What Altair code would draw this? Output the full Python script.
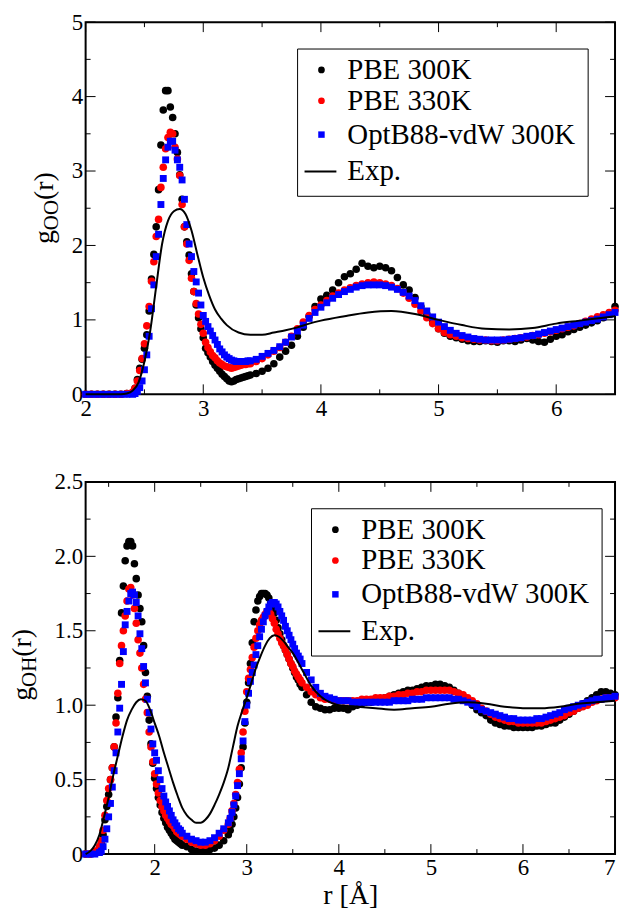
import altair as alt
import pandas as pd

FONT = "Liberation Serif"
W, H = 532, 374

series_names = ["PBE 300K", "PBE 330K", "OptB88-vdW 300K", "Exp."]
series_colors = ["#000000", "#ff0000", "#0000ff", "#000000"]

# ---------------- top panel: g_OO(r) ----------------
r_oo = [2.00, 2.05, 2.10, 2.15, 2.20, 2.25, 2.30, 2.35,
        2.40, 2.42, 2.44, 2.46, 2.48, 2.50, 2.52, 2.54, 2.56, 2.58,
        2.60, 2.62, 2.64, 2.66, 2.68, 2.70, 2.72, 2.74, 2.76, 2.78,
        2.80, 2.82, 2.84, 2.86, 2.88, 2.90, 2.92, 2.94, 2.96, 2.98,
        3.00, 3.02, 3.04, 3.06, 3.08, 3.10, 3.12, 3.14, 3.16, 3.18,
        3.20, 3.22, 3.24, 3.26, 3.28, 3.30, 3.32, 3.34, 3.36, 3.38,
        3.40, 3.45, 3.50, 3.55, 3.60, 3.65, 3.70, 3.75, 3.80, 3.85,
        3.90, 3.95, 4.00, 4.05, 4.10, 4.15, 4.20, 4.25, 4.30, 4.35,
        4.40, 4.45, 4.50, 4.55, 4.60, 4.65, 4.70, 4.75, 4.80, 4.85,
        4.90, 4.95, 5.00, 5.05, 5.10, 5.15, 5.20, 5.25, 5.30, 5.35,
        5.40, 5.45, 5.50, 5.55, 5.60, 5.65, 5.70, 5.75, 5.80, 5.85,
        5.90, 5.95, 6.00, 6.05, 6.10, 6.15, 6.20, 6.25, 6.30, 6.35,
        6.40, 6.45, 6.50]

goo_pbe300 = [0, 0, 0, 0, 0, 0, 0, 0.01,
              0.02, 0.08, 0.20, 0.35, 0.47, 0.62, 0.80, 1.12, 1.55, 1.88,
              2.25, 2.75, 3.35, 3.82, 4.08, 4.08, 3.86, 3.72, 3.50, 3.25,
              2.95, 2.62, 2.25, 2.05, 1.87, 1.62, 1.38, 1.20, 1.03, 0.88,
              0.76, 0.62, 0.56, 0.50, 0.44, 0.39, 0.35, 0.31, 0.27, 0.24,
              0.21, 0.18, 0.17, 0.18, 0.20, 0.21, 0.22, 0.23, 0.24, 0.25,
              0.26, 0.28, 0.31, 0.35, 0.41, 0.50, 0.58, 0.66, 0.78, 0.90,
              1.05, 1.18, 1.28, 1.33, 1.40, 1.50, 1.58, 1.62, 1.68, 1.76,
              1.72, 1.70, 1.72, 1.70, 1.66, 1.57, 1.47, 1.40, 1.30, 1.18,
              1.08, 0.97, 0.88, 0.82, 0.78, 0.76, 0.74, 0.72, 0.71, 0.71,
              0.72, 0.71, 0.70, 0.72, 0.72, 0.71, 0.73, 0.75, 0.73, 0.71,
              0.70, 0.74, 0.78, 0.80, 0.84, 0.87, 0.90, 0.93, 0.96, 0.99,
              1.03, 1.09, 1.18]

goo_pbe330 = [0, 0, 0, 0, 0, 0, 0, 0.01,
              0.03, 0.08, 0.18, 0.32, 0.48, 0.68, 0.92, 1.18, 1.52, 1.78,
              2.12, 2.35, 2.78, 3.05, 3.30, 3.45, 3.52, 3.50, 3.32, 3.16,
              2.94, 2.55, 2.25, 2.02, 1.80, 1.56, 1.38, 1.22, 1.08, 0.94,
              0.82, 0.70, 0.63, 0.57, 0.52, 0.49, 0.45, 0.42, 0.40, 0.38,
              0.37, 0.36, 0.35, 0.36, 0.37, 0.38, 0.39, 0.40, 0.40, 0.41,
              0.41, 0.44, 0.48, 0.53, 0.58, 0.63, 0.70, 0.78, 0.88, 0.97,
              1.06, 1.14, 1.20, 1.26, 1.32, 1.36, 1.40, 1.43, 1.46, 1.48,
              1.50, 1.51, 1.50, 1.48, 1.46, 1.42, 1.36, 1.29, 1.21, 1.12,
              1.03, 0.95, 0.88, 0.83, 0.80, 0.78, 0.76, 0.75, 0.74, 0.73,
              0.73, 0.72, 0.72, 0.73, 0.74, 0.75, 0.76, 0.77, 0.79, 0.80,
              0.82, 0.84, 0.86, 0.88, 0.90, 0.92, 0.95, 0.98, 1.01, 1.04,
              1.07, 1.10, 1.13]

goo_optb88 = [0, 0, 0, 0, 0, 0, 0, 0,
              0.00, 0.01, 0.04, 0.09, 0.18, 0.33, 0.53, 0.78, 1.15, 1.47,
              1.85, 2.15, 2.55, 2.90, 3.15, 3.32, 3.40, 3.40, 3.28, 3.15,
              3.05, 2.88, 2.62, 2.28, 2.02, 1.85, 1.65, 1.51, 1.36, 1.20,
              1.06, 0.98, 0.91, 0.85, 0.79, 0.73, 0.67, 0.61, 0.57, 0.53,
              0.50, 0.48, 0.46, 0.45, 0.44, 0.44, 0.44, 0.44, 0.44, 0.45,
              0.45, 0.47, 0.51, 0.55, 0.59, 0.64, 0.70, 0.77, 0.85, 0.93,
              1.02, 1.10, 1.17, 1.23, 1.29, 1.34, 1.38, 1.41, 1.44, 1.46,
              1.47, 1.47, 1.47, 1.46, 1.44, 1.41, 1.37, 1.32, 1.26, 1.19,
              1.12, 1.04, 0.97, 0.91, 0.86, 0.82, 0.79, 0.77, 0.75, 0.74,
              0.73, 0.73, 0.73, 0.73, 0.74, 0.75, 0.76, 0.78, 0.79, 0.81,
              0.83, 0.85, 0.87, 0.89, 0.91, 0.93, 0.95, 0.97, 0.99, 1.01,
              1.04, 1.07, 1.10]

r_oo_exp = [2.0, 2.1, 2.2, 2.3, 2.35, 2.4, 2.45, 2.5, 2.55, 2.6, 2.65, 2.7,
            2.75, 2.8, 2.85, 2.9, 2.95, 3.0, 3.05, 3.1, 3.15, 3.2, 3.3, 3.4,
            3.5, 3.6, 3.7, 3.8, 3.9, 4.0, 4.2, 4.4, 4.6, 4.8, 5.0, 5.2, 5.4,
            5.6, 5.8, 6.0, 6.2, 6.4, 6.5]
goo_exp = [0, 0, 0, 0, 0.01, 0.05, 0.16, 0.44, 0.86, 1.45, 2.02, 2.33,
           2.46, 2.49, 2.42, 2.20, 1.88, 1.57, 1.33, 1.14, 1.02, 0.93, 0.83, 0.80,
           0.80, 0.83, 0.86, 0.90, 0.95, 0.99, 1.05, 1.10, 1.12, 1.08, 1.00, 0.93, 0.88,
           0.87, 0.89, 0.95, 0.99, 1.03, 1.05]

# ---------------- bottom panel: g_OH(r) ----------------
r_oh = [1.25, 1.30, 1.35,
        1.40, 1.42, 1.44, 1.46, 1.48, 1.50, 1.52, 1.54, 1.56, 1.58,
        1.60, 1.62, 1.64, 1.66, 1.68, 1.70, 1.72, 1.74, 1.76, 1.78,
        1.80, 1.82, 1.84, 1.86, 1.88, 1.90, 1.92, 1.94, 1.96, 1.98,
        2.00, 2.02, 2.04, 2.06, 2.08, 2.10, 2.12, 2.14, 2.16, 2.18,
        2.20, 2.22, 2.24, 2.26, 2.28,
        2.30, 2.35, 2.40, 2.45, 2.50, 2.55, 2.60, 2.65, 2.70, 2.75,
        2.80, 2.82, 2.84, 2.86, 2.88, 2.90, 2.92, 2.94, 2.96, 2.98,
        3.00, 3.02, 3.04, 3.06, 3.08, 3.10, 3.12, 3.14, 3.16, 3.18,
        3.20, 3.22, 3.24, 3.26, 3.28, 3.30, 3.32, 3.34, 3.36, 3.38,
        3.40, 3.42, 3.44, 3.46, 3.48, 3.50, 3.52, 3.54, 3.56, 3.58,
        3.60,
        3.65, 3.70, 3.75, 3.80, 3.85, 3.90, 3.95, 4.00, 4.05, 4.10,
        4.15, 4.20, 4.25, 4.30, 4.35, 4.40, 4.45, 4.50, 4.55, 4.60,
        4.65, 4.70, 4.75, 4.80, 4.85, 4.90, 4.95, 5.00, 5.05, 5.10,
        5.15, 5.20, 5.25, 5.30, 5.35, 5.40, 5.45, 5.50, 5.55, 5.60,
        5.65, 5.70, 5.75, 5.80, 5.85, 5.90, 5.95, 6.00, 6.05, 6.10,
        6.15, 6.20, 6.25, 6.30, 6.35, 6.40, 6.45, 6.50, 6.55, 6.60,
        6.65, 6.70, 6.75, 6.80, 6.85, 6.90, 6.95, 7.00]

goh_pbe300 = [0, 0, 0.01,
              0.04, 0.07, 0.13, 0.23, 0.32, 0.40, 0.50, 0.58, 0.72, 0.92,
              1.05, 1.30, 1.62, 1.80, 1.97, 2.07, 2.10, 2.10, 2.07, 1.95,
              1.85, 1.74, 1.65, 1.56, 1.40, 1.22, 1.06, 0.90, 0.74, 0.61,
              0.51, 0.44, 0.38, 0.33, 0.28, 0.24, 0.21, 0.18, 0.16, 0.14,
              0.12, 0.10, 0.09, 0.08, 0.07,
              0.06, 0.05, 0.03, 0.02, 0.02, 0.02, 0.03, 0.04, 0.06, 0.09,
              0.13, 0.16, 0.20, 0.25, 0.31, 0.38, 0.47, 0.58, 0.72, 0.88,
              1.02, 1.15, 1.28, 1.42, 1.56, 1.64, 1.70, 1.73, 1.75, 1.75,
              1.75, 1.74, 1.72, 1.69, 1.66, 1.62, 1.57, 1.52, 1.48, 1.44,
              1.40, 1.37, 1.34, 1.31, 1.28, 1.25, 1.22, 1.19, 1.17, 1.14,
              1.12,
              1.07, 1.02, 0.99, 0.98, 0.97, 0.97, 0.98, 0.98, 0.98, 0.97,
              0.99, 1.00, 1.01, 1.02, 1.02, 1.03, 1.04, 1.05, 1.06, 1.07,
              1.08, 1.09, 1.10, 1.10, 1.11, 1.12, 1.13, 1.13, 1.14, 1.14,
              1.13, 1.12, 1.10, 1.08, 1.06, 1.03, 1.00, 0.97, 0.95, 0.93,
              0.90, 0.88, 0.87, 0.86, 0.86, 0.85, 0.85, 0.85, 0.85, 0.85,
              0.86, 0.86, 0.87, 0.88, 0.88, 0.90, 0.92, 0.94, 0.96, 0.98,
              1.01, 1.03, 1.05, 1.07, 1.09, 1.09, 1.08, 1.07]

goh_pbe330 = [0, 0, 0.02,
              0.05, 0.09, 0.16, 0.26, 0.36, 0.44, 0.50, 0.58, 0.72, 0.88,
              1.08, 1.28, 1.40, 1.50, 1.60, 1.70, 1.78, 1.79, 1.74, 1.65,
              1.55, 1.44, 1.35, 1.25, 1.14, 1.04, 0.95, 0.82, 0.72, 0.62,
              0.54, 0.47, 0.41, 0.36, 0.32, 0.29, 0.26, 0.24, 0.22, 0.20,
              0.19, 0.17, 0.15, 0.14, 0.13,
              0.12, 0.10, 0.08, 0.07, 0.06, 0.06, 0.07, 0.09, 0.12, 0.16,
              0.20, 0.24, 0.29, 0.34, 0.40, 0.48, 0.57, 0.68, 0.82, 0.96,
              1.09, 1.18, 1.24, 1.32, 1.39, 1.45, 1.50, 1.54, 1.57, 1.59,
              1.61, 1.63, 1.63, 1.61, 1.58, 1.55, 1.51, 1.48, 1.45, 1.42,
              1.40, 1.37, 1.34, 1.31, 1.28, 1.26, 1.23, 1.21, 1.19, 1.17,
              1.15,
              1.12, 1.09, 1.07, 1.05, 1.04, 1.04, 1.03, 1.03, 1.03, 1.03,
              1.03, 1.03, 1.04, 1.04, 1.04, 1.05, 1.05, 1.05, 1.06, 1.06,
              1.07, 1.07, 1.08, 1.08, 1.09, 1.09, 1.10, 1.10, 1.10, 1.10,
              1.10, 1.10, 1.09, 1.08, 1.07, 1.05, 1.03, 1.01, 0.98, 0.96,
              0.94, 0.92, 0.91, 0.90, 0.89, 0.89, 0.88, 0.88, 0.88, 0.88,
              0.88, 0.88, 0.89, 0.90, 0.91, 0.92, 0.93, 0.95, 0.96, 0.98,
              0.99, 1.00, 1.02, 1.03, 1.04, 1.05, 1.05, 1.05]

goh_optb88 = [0, 0, 0,
              0.01, 0.02, 0.05, 0.10, 0.17, 0.25, 0.34, 0.45, 0.56, 0.68,
              0.82, 0.98, 1.14, 1.36, 1.54, 1.63, 1.70, 1.75, 1.76, 1.74,
              1.69, 1.60, 1.48, 1.38, 1.26, 1.15, 1.04, 0.95, 0.84, 0.74,
              0.68, 0.63, 0.56, 0.50, 0.44, 0.39, 0.35, 0.32, 0.29, 0.26,
              0.23, 0.21, 0.19, 0.17, 0.16,
              0.14, 0.12, 0.10, 0.09, 0.08, 0.08, 0.09, 0.11, 0.14, 0.17,
              0.21, 0.24, 0.28, 0.33, 0.39, 0.46, 0.54, 0.64, 0.76, 0.89,
              1.00, 1.08, 1.16, 1.22, 1.27, 1.34, 1.40, 1.46, 1.51, 1.56,
              1.60, 1.63, 1.66, 1.68, 1.69, 1.69, 1.68, 1.66, 1.63, 1.60,
              1.57, 1.53, 1.50, 1.47, 1.44, 1.41, 1.38, 1.35, 1.33, 1.31,
              1.28,
              1.22, 1.17, 1.12, 1.08, 1.06, 1.05, 1.04, 1.03, 1.03, 1.03,
              1.02, 1.02, 1.02, 1.02, 1.02, 1.02, 1.02, 1.02, 1.02, 1.03,
              1.03, 1.03, 1.03, 1.04, 1.04, 1.04, 1.05, 1.05, 1.05, 1.05,
              1.05, 1.05, 1.04, 1.04, 1.03, 1.02, 1.01, 0.99, 0.97, 0.96,
              0.95, 0.94, 0.93, 0.92, 0.91, 0.91, 0.90, 0.90, 0.90, 0.90,
              0.91, 0.91, 0.92, 0.93, 0.94, 0.95, 0.97, 0.98, 0.99, 1.00,
              1.01, 1.02, 1.03, 1.04, 1.04, 1.05, 1.05, 1.06]

r_oh_exp = [1.25, 1.30, 1.35, 1.40, 1.45, 1.50, 1.55, 1.60, 1.65, 1.70, 1.75,
            1.80, 1.85, 1.90, 1.95, 2.00, 2.05, 2.10, 2.15, 2.20, 2.25, 2.30,
            2.35, 2.40, 2.45, 2.50, 2.55, 2.60, 2.65, 2.70, 2.75, 2.80, 2.85,
            2.90, 2.95, 3.00, 3.05, 3.10, 3.15, 3.20, 3.25, 3.30, 3.35, 3.40,
            3.45, 3.50, 3.60, 3.70, 3.80, 3.90, 4.00, 4.20, 4.40, 4.60, 4.80,
            5.00, 5.20, 5.40, 5.60, 5.80, 6.00, 6.20, 6.40, 6.60, 6.80, 7.00]
goh_exp = [0.00, 0.02, 0.06, 0.13, 0.25, 0.38, 0.53, 0.66, 0.79, 0.90, 0.97,
           1.02, 1.04, 1.03, 0.97, 0.88, 0.79, 0.68, 0.58, 0.48, 0.39, 0.31,
           0.26, 0.23, 0.21, 0.21, 0.23, 0.27, 0.33, 0.40, 0.48, 0.58, 0.72,
           0.86, 0.96, 1.05, 1.15, 1.25, 1.33, 1.40, 1.45, 1.47, 1.46, 1.43,
           1.39, 1.35, 1.24, 1.13, 1.06, 1.02, 1.00, 0.99, 0.98, 0.97, 0.98,
           0.99, 1.01, 1.02, 1.01, 0.99, 0.98, 0.98, 0.99, 1.01, 1.02, 1.03]

# tick positions
oo_x_major = [2, 3, 4, 5, 6]
oo_x_minor = [2.5, 3.5, 4.5, 5.5]
oo_y_major = [0, 1, 2, 3, 4, 5]
oo_y_minor = [0.5, 1.5, 2.5, 3.5, 4.5]
oh_x_major = [2, 3, 4, 5, 6, 7]
oh_x_minor = [1.5, 2.5, 3.5, 4.5, 5.5, 6.5]
oh_y_major = [0, 0.5, 1.0, 1.5, 2.0, 2.5]
oh_y_minor = [0.25, 0.75, 1.25, 1.75, 2.25]


def frame_df(r, g):
    n = min(len(r), len(g))
    return pd.DataFrame({"r": r[:n], "g": g[:n]})


def panel(r, g1, g2, g3, r_exp, g_exp, xdom, ydom, xmaj, xmin, ymaj, ymin,
          ylabel_expr, xtitle, xflush, sub, title_x, title_y0, bx, by, rows):
    xs = alt.Scale(domain=xdom, nice=False, zero=False)
    ys = alt.Scale(domain=ydom, nice=False, zero=False)
    xaxis = alt.Axis(values=xmaj, format="d", title=xtitle, labelFlush=xflush)
    yaxis = alt.Axis(values=ymaj, labelExpr=ylabel_expr, title=None)

    def X(f):
        return alt.X(f"{f}:Q", scale=xs, axis=xaxis)

    def Y(f):
        return alt.Y(f"{f}:Q", scale=ys, axis=yaxis)

    layers = []
    # inward ticks on all four sides
    for vals, L in ((xmaj, 10), (xmin, 5)):
        d = pd.DataFrame({"v": vals})
        layers.append(alt.Chart(d).mark_rule(color="black", strokeWidth=1).encode(
            x=X("v"), y=alt.value(H), y2=alt.value(H - L)))
        layers.append(alt.Chart(d).mark_rule(color="black", strokeWidth=1).encode(
            x=X("v"), y=alt.value(0), y2=alt.value(L)))
    for vals, L in ((ymaj, 10), (ymin, 5)):
        d = pd.DataFrame({"v": vals})
        layers.append(alt.Chart(d).mark_rule(color="black", strokeWidth=1).encode(
            y=Y("v"), x=alt.value(0), x2=alt.value(L)))
        layers.append(alt.Chart(d).mark_rule(color="black", strokeWidth=1).encode(
            y=Y("v"), x=alt.value(W), x2=alt.value(W - L)))

    # data points
    layers.append(alt.Chart(frame_df(r, g1)).mark_point(
        filled=True, shape="circle", size=58, color=series_colors[0],
        opacity=1, strokeWidth=0).encode(x=X("r"), y=Y("g")))
    layers.append(alt.Chart(frame_df(r, g2)).mark_point(
        filled=True, shape="circle", size=58, color=series_colors[1],
        opacity=1, strokeWidth=0).encode(x=X("r"), y=Y("g")))
    layers.append(alt.Chart(frame_df(r, g3)).mark_point(
        filled=True, shape="square", size=48, color=series_colors[2],
        opacity=1, strokeWidth=0).encode(x=X("r"), y=Y("g")))
    layers.append(alt.Chart(frame_df(r_exp, g_exp)).mark_line(
        color="black", strokeWidth=2, interpolate="monotone").encode(
        x=X("r"), y=Y("g")))

    # legend box
    one = pd.DataFrame({"k": [0]})
    layers.append(alt.Chart(one).mark_rect(fill="white", stroke="black", strokeWidth=1).encode(
        x=alt.value(bx), x2=alt.value(bx + 292), y=alt.value(by), y2=alt.value(by + 148)))
    for i, name in enumerate(series_names):
        d = pd.DataFrame({"label": [name]})
        yy = by + rows[i]
        if i < 3:
            layers.append(alt.Chart(d).mark_point(
                filled=True, shape="square" if i == 2 else "circle",
                size=42 if i == 2 else 45, color=series_colors[i],
                opacity=1, strokeWidth=0).encode(x=alt.value(bx + 24), y=alt.value(yy)))
        else:
            layers.append(alt.Chart(d).mark_rule(color="black", strokeWidth=2).encode(
                x=alt.value(bx + 7), x2=alt.value(bx + 39), y=alt.value(yy)))
        layers.append(alt.Chart(d).mark_text(
            align="left", baseline="middle", font=FONT, fontSize=29, color="black").encode(
            x=alt.value(bx + 50), y=alt.value(yy), text="label:N"))

    # y title  g_sub(r)
    F, SF = 28, 21
    parts = [("g", F, title_x, title_y0),
             (sub, SF, title_x + 5, title_y0 - 0.5 * F),
             ("(r)", F, title_x, title_y0 - 0.5 * F - 0.722 * SF * len(sub))]
    for txt, fs, tx, ty in parts:
        d = pd.DataFrame({"t": [txt]})
        layers.append(alt.Chart(d).mark_text(
            align="left", baseline="alphabetic", angle=270, font=FONT,
            fontSize=fs, color="black").encode(
            x=alt.value(tx), y=alt.value(ty), text="t:N"))

    return alt.layer(*layers).properties(width=W, height=H)


legend_rows = [21, 52, 86, 123]

top = panel(r_oo, goo_pbe300, goo_pbe330, goo_optb88, r_oo_exp, goo_exp,
            [2, 6.5], [0, 5], oo_x_major, oo_x_minor, oo_y_major, oo_y_minor,
            "format(datum.value, 'd')", None, False, "OO", -33, 223,
            213, 27, legend_rows)

bottom = panel(r_oh, goh_pbe300, goh_pbe330, goh_optb88, r_oh_exp, goh_exp,
               [1.25, 7], [0, 2.5], oh_x_major, oh_x_minor, oh_y_major, oh_y_minor,
               "datum.value == 0 ? '0' : format(datum.value, '.1f')", "r [Å]", True,
               "OH", -55, 220, 227, 27, legend_rows)

chart = alt.vconcat(top, bottom, spacing=49).properties(
    padding={"left": 0, "top": 0, "right": 0, "bottom": 0}, background="white"
).configure(
    padding={"left": 0, "top": 0, "right": 0, "bottom": 0}
).configure_view(
    stroke="black", strokeWidth=2
).configure_axis(
    labelFont=FONT, labelFontSize=23, labelColor="black", labelPadding=3,
    ticks=False, domain=False, grid=False, labelOverlap=False,
    titleFont=FONT, titleFontSize=28, titleFontWeight="normal",
    titleColor="black", titlePadding=2
)

chart.save("out.html", embed_options={"renderer": "svg", "actions": False})
